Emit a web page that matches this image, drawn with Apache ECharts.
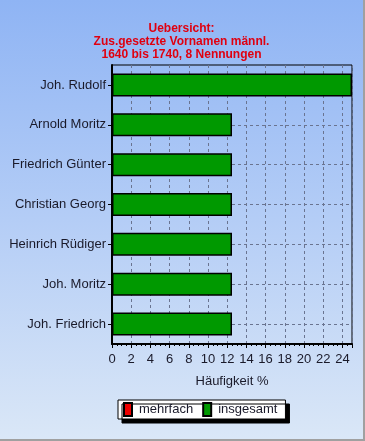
<!DOCTYPE html>
<html><head><meta charset="utf-8">
<script src="https://cdn.jsdelivr.net/npm/echarts@6/dist/echarts.min.js"></script>
<style>
html,body{margin:0;padding:0;}
#c{width:365px;height:441px;background:linear-gradient(to bottom,#8fb4f4 0%,#b4cdf6 50%,#dae7f7 100%);box-sizing:border-box;border-right:2px solid #a0a0a0;border-bottom:2px solid #a0a0a0;}
</style></head>
<body><div id="c"></div>
<script>
const categories = ["Joh. Friedrich","Joh. Moritz","Heinrich Rüdiger","Christian Georg","Friedrich Günter","Arnold Moritz","Joh. Rudolf"];
const insgesamt = [12.5,12.5,12.5,12.5,12.5,12.5,25];
const mehrfach = [0,0,0,0,0,0,0];
const titleText = "Uebersicht:\nZus.gesetzte Vornamen männl.\n1640 bis 1740, 8 Nennungen";
const xName = "Häufigkeit %";

const chart = echarts.init(document.getElementById('c'));
const font = 'Arial, "Liberation Sans", sans-serif';
chart.setOption({
  animation:false,
  title:{text:titleText,left:'center',top:17,textStyle:{color:'#e00010',fontSize:12,fontWeight:'bold',fontFamily:font,lineHeight:13}},
  grid:{left:112,right:11,top:65,bottom:95,show:true,borderColor:'#000',borderWidth:1,backgroundColor:'transparent'},
  legend:{data:['mehrfach','insgesamt'],left:118,top:400,itemWidth:8,itemHeight:13,itemGap:9,
    padding:[2,8,2,5],backgroundColor:'#fff',borderColor:'#000',borderWidth:1,
    shadowColor:'#000',shadowOffsetX:4,shadowOffsetY:4,shadowBlur:0,
    textStyle:{fontSize:13,color:'#1a1a2a',fontFamily:font,padding:[0,0,0,2]},
    icon:'rect'},
  xAxis:{type:'value',min:0,max:25,interval:2,name:xName,nameLocation:'middle',nameGap:31,
    nameTextStyle:{fontSize:13,color:'#1a1a2a',fontFamily:font},
    axisLine:{show:true,lineStyle:{color:'#000',width:2}},
    axisTick:{show:true,length:4,lineStyle:{color:'#000'}},
    minorTick:{show:true,splitNumber:4,length:2,lineStyle:{color:'#000'}},
    axisLabel:{fontSize:13,color:'#1a1a2a',fontFamily:font,margin:9,showMaxLabel:false},
    splitLine:{show:true,lineStyle:{color:'#6a7490',type:[3,3],width:1}}},
  yAxis:{type:'category',data:categories,
    axisLine:{show:true,lineStyle:{color:'#000',width:2}},
    axisTick:{show:true,alignWithLabel:true,length:4,lineStyle:{color:'#000'}},
    axisLabel:{fontSize:13,color:'#1a1a2a',fontFamily:font,margin:6},
    splitLine:{show:false}},
  series:[
    {name:'mehrfach',type:'bar',data:mehrfach,barWidth:23,barGap:'-100%',itemStyle:{color:'#ee0000',borderColor:'#000',borderWidth:1}},
    {name:'insgesamt',type:'bar',data:insgesamt,barWidth:23,z:3,itemStyle:{color:'#009900',borderColor:'#000',borderWidth:1.5},
     markLine:{silent:true,symbol:'none',label:{show:false},lineStyle:{color:'#6a7490',type:[3,3],width:1},z:1,
       data:categories.map(c=>({yAxis:c}))}}
  ]
});
</script></body></html>
